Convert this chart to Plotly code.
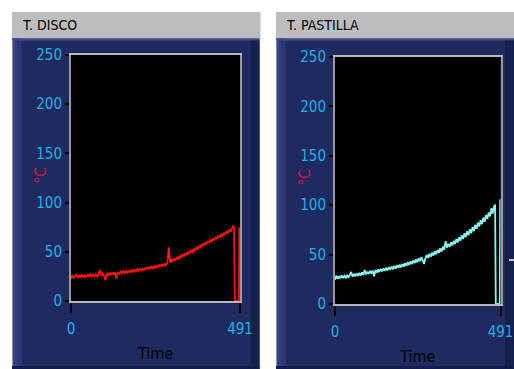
import plotly.graph_objects as go

# ---------------- data ----------------
time_main = list(range(0, 476, 4))  # 0 .. 472

disco = [
    22.5, 26.5, 23.0, 25.8, 27.5, 23.5, 26.4, 24.0, 27.2, 23.8,
    26.6, 24.2, 27.0, 24.6, 27.8, 24.3, 26.9, 24.8, 27.5, 25.0,
    27.2, 31.5, 25.6, 27.9, 25.4, 21.0, 28.2, 25.9, 28.8, 26.3,
    29.0, 26.6, 29.4, 22.5, 29.2, 27.6, 30.1, 27.8, 30.3, 28.2,
    30.8, 28.4, 31.2, 28.9, 31.8, 29.0, 32.1, 29.6, 32.3, 30.4,
    32.8, 30.6, 33.4, 31.0, 34.1, 31.9, 34.6, 32.3, 35.0, 33.0,
    35.6, 33.2, 36.3, 33.8, 37.0, 34.6, 37.5, 35.2, 38.1, 35.9,
    38.6, 54.5, 39.0, 42.3, 40.6, 43.4, 41.2, 44.8, 42.1, 45.6,
    44.0, 47.2, 45.5, 48.7, 46.6, 50.0, 48.0, 51.3, 49.5, 52.6,
    51.0, 54.3, 52.5, 56.2, 54.3, 57.9, 55.8, 59.5, 57.2, 60.6,
    58.7, 62.0, 60.2, 63.6, 61.5, 65.0, 63.0, 66.6, 64.5, 67.8,
    66.0, 69.3, 67.4, 71.0, 68.9, 72.6, 70.3, 74.2, 76.5,
]
disco_tail_time = [474, 475, 476, 488, 489]
disco_tail = [73.5, 38.0, 0.0, 0.0, 75.0]

pastilla = [
    24.5, 28.8, 25.4, 28.2, 25.9, 29.0, 26.3, 28.5, 26.0, 29.4,
    26.8, 30.0, 32.5, 27.6, 30.4, 27.9, 31.0, 28.4, 31.4, 28.8,
    32.0, 29.2, 34.5, 29.9, 32.8, 30.3, 33.5, 30.8, 33.9, 28.0,
    34.4, 31.8, 35.0, 32.4, 35.6, 33.0, 36.0, 33.5, 36.7, 34.1,
    37.4, 34.7, 37.9, 35.2, 38.6, 35.8, 39.2, 36.5, 39.8, 37.1,
    40.7, 37.8, 41.4, 38.6, 42.3, 39.4, 43.2, 40.3, 44.1, 41.3,
    45.3, 42.2, 46.3, 43.4, 47.4, 44.5, 40.5, 46.0, 49.6, 46.7,
    50.8, 47.7, 52.0, 49.0, 53.3, 50.2, 54.8, 51.6, 56.4, 53.0,
    58.0, 54.7, 63.5, 57.0, 61.0, 57.8, 62.4, 59.2, 64.0, 60.6,
    65.8, 62.3, 67.6, 64.0, 69.5, 65.8, 71.5, 67.7, 73.6, 69.6,
    75.6, 71.6, 77.8, 73.8, 80.1, 76.2, 82.4, 78.5, 84.9, 80.8,
    87.4, 83.3, 90.0, 86.0, 92.7, 88.6, 97.0, 91.4, 99.5,
]
pastilla_tail_time = [474, 475, 476, 477, 489, 490]
pastilla_tail = [97.0, 101.0, 48.0, 0.0, 0.0, 106.0]

x_ticks = [0, 491]
x_ticktext = ["0", "491"]
y_ticks = [0, 50, 100, 150, 200, 250]
titles = ["T. DISCO", "T. PASTILLA"]
x_title = "Time"
y_title = "°C"

# ---------------- styling ----------------
W, H = 514, 369
FONT = "Liberation Sans Narrow, DejaVu Sans Condensed, Arial Narrow, sans-serif"
TICK_COLOR = "#1ab2e6"
BLUE = "#1f2b60"

PLOTS = [(71, 55, 240, 301), (335, 57, 500.5, 304)]  # x0, y0, x1, y1 in pixels
YTITLE_POS = [(40.5, 176), (304.5, 178)]


def px(x):
    return x / W


def py(y):
    return 1 - y / H


fig = go.Figure()
fig.add_trace(go.Scatter(x=time_main + disco_tail_time, y=disco + disco_tail,
                         mode="lines", line=dict(color="#ff1212", width=1.8),
                         xaxis="x", yaxis="y", showlegend=False))
fig.add_trace(go.Scatter(x=time_main + pastilla_tail_time, y=pastilla + pastilla_tail,
                         mode="lines", line=dict(color="#8cf4f0", width=1.8),
                         xaxis="x2", yaxis="y2", showlegend=False))


def xaxis_cfg(domain, anchor):
    return dict(domain=domain, anchor=anchor, range=[0, 491], tickvals=x_ticks,
                ticktext=x_ticktext, ticks="outside", ticklen=10, tickwidth=2,
                tickcolor="#000000", tickfont=dict(family=FONT, size=15, color=TICK_COLOR),
                ticklabelstandoff=3,
                showgrid=False, zeroline=False, showline=True, linecolor="#b8b8b8",
                linewidth=2, mirror=True, automargin=False, fixedrange=True,
                title=dict(text=x_title, font=dict(family=FONT, size=16, color="#000000"),
                           standoff=11))


def yaxis_cfg(domain, anchor):
    return dict(domain=domain, anchor=anchor, range=[0, 250], tickvals=y_ticks,
                ticks="outside", ticklen=4, tickwidth=2, tickcolor="#000000",
                tickfont=dict(family=FONT, size=15, color=TICK_COLOR),
                showgrid=False, zeroline=False, showline=True, linecolor="#9a9a9a",
                linewidth=2, mirror=True, automargin=False, fixedrange=True)


shapes = []


def rect(x0, y0, x1, y1, color):
    shapes.append(dict(type="rect", xref="paper", yref="paper",
                       x0=px(x0), x1=px(x1), y0=py(y1), y1=py(y0),
                       fillcolor=color, line=dict(width=0), layer="below"))


# panels
for (x0, x1) in [(12, 259.5), (276, 514)]:
    rect(x0, 12, x1 + (1 if x1 < 300 else 0), 38.5, "#bdbdbd")
    rect(x0, 38.5, x1, 369, BLUE)
    rect(x0, 38.5, x0 + 1, 369, "#8a8fa8")
    rect(x0 + 1, 38.5, x0 + 5, 369, "#33427f")
    rect(x0 + 5, 38.5, x0 + 10, 369, "#2a3873")
    rect(x0, 38.5, x1, 40.5, "#3a4a8a")
    rect(x1 - 9, 40.5, x1, 369, "#16204c")
    rect(x0, 366, x1, 369, "#151e48")

# black plotting areas
for (x0, y0, x1, y1) in PLOTS:
    rect(x0, y0, x1, y1, "#000000")

annotations = []
for i, t in enumerate(titles):
    annotations.append(dict(text=t, xref="paper", yref="paper",
                            x=px(20 if i == 0 else 284), y=py(25),
                            xanchor="left", yanchor="middle", showarrow=False,
                            font=dict(family=FONT, size=14, color="#000000")))
for (cx, cy) in YTITLE_POS:
    annotations.append(dict(text=y_title, xref="paper", yref="paper",
                            x=px(cx), y=py(cy), xanchor="center", yanchor="middle",
                            textangle=-90, showarrow=False,
                            font=dict(family=FONT, size=15, color="#d0143c")))

fig.update_layout(
    width=W, height=H, margin=dict(l=0, r=0, t=0, b=0), autosize=False,
    paper_bgcolor="#ffffff", plot_bgcolor="rgba(0,0,0,0)",
    xaxis=xaxis_cfg([px(PLOTS[0][0]), px(PLOTS[0][2])], "y"),
    yaxis=yaxis_cfg([py(PLOTS[0][3]), py(PLOTS[0][1])], "x"),
    xaxis2=xaxis_cfg([px(PLOTS[1][0]), px(PLOTS[1][2])], "y2"),
    yaxis2=yaxis_cfg([py(PLOTS[1][3]), py(PLOTS[1][1])], "x2"),
    shapes=shapes + [
        dict(type="line", xref="paper", yref="paper", x0=px(509), x1=px(514),
             y0=py(260), y1=py(260), line=dict(color="#ffffff", width=1.5)),
    ],
    annotations=annotations,
)

fig.write_html("out.html", config={"displayModeBar": False},
               post_script="document.body.style.margin='0';document.body.style.overflow='hidden';")
